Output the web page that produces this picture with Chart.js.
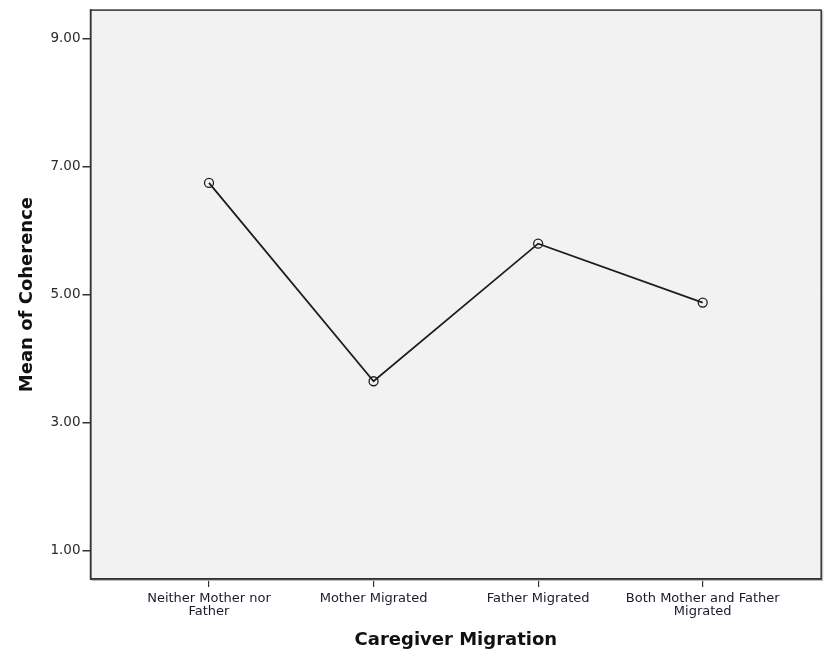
<!DOCTYPE html>
<html>
<head>
<meta charset="utf-8">
<script src="https://cdn.jsdelivr.net/npm/chart.js@4/dist/chart.umd.min.js"></script>
<style>
html,body{margin:0;padding:0;background:#fff;}
#wrap{width:827px;height:652px;position:relative;}
</style>
</head>
<body>
<div id="wrap"><canvas id="c" width="827" height="652"></canvas></div>
<script>
const categories = [
  ["Neither Mother nor", "Father"],
  ["Mother Migrated"],
  ["Father Migrated"],
  ["Both Mother and Father", "Migrated"]
];
const coherenceMeans = [6.75, 3.65, 5.80, 4.88];
const yTickValues = [1, 3, 5, 7, 9];
const yTickLabels = ["1.00", "3.00", "5.00", "7.00", "9.00"];

const plotBg = {
  id: 'plotBg',
  beforeDraw(chart) {
    const {ctx, chartArea: a} = chart;
    ctx.save();
    ctx.fillStyle = '#f2f2f2';
    ctx.fillRect(a.left, a.top, a.right - a.left, a.bottom - a.top);
    ctx.restore();
  },
  afterDraw(chart) {
    const {ctx, chartArea: a} = chart;
    ctx.save();
    ctx.strokeStyle = '#bbbbbb';
    ctx.lineWidth = 1;
    ctx.beginPath();
    ctx.moveTo(a.right + 1.5, a.top + 1);
    ctx.lineTo(a.right + 1.5, a.bottom + 1.5);
    ctx.lineTo(a.left + 1, a.bottom + 1.5);
    ctx.stroke();
    ctx.strokeStyle = '#333333';
    ctx.lineWidth = 1.5;
    ctx.strokeRect(a.left, a.top, a.right - a.left, a.bottom - a.top);
    ctx.restore();
  }
};

new Chart(document.getElementById('c'), {
  type: 'line',
  data: {
    datasets: [{
      data: coherenceMeans.map((v, i) => ({x: i, y: v})),
      borderColor: '#1e1e1e',
      borderWidth: 1.8,
      pointRadius: 4.5,
      pointBorderWidth: 1.3,
      pointBorderColor: '#1e1e1e',
      pointBackgroundColor: 'rgba(0,0,0,0)',
      tension: 0
    }]
  },
  plugins: [plotBg],
  options: {
    responsive: false,
    animation: false,
    devicePixelRatio: 1,
    layout: {padding: {top: 9, right: 4, bottom: 0, left: 0}},
    plugins: {legend: {display: false}, tooltip: {enabled: false}},
    scales: {
      x: {
        type: 'linear',
        min: -0.72,
        max: 3.72,
        afterBuildTicks: s => { s.ticks = categories.map((_, i) => ({value: i})); },
        afterFit: s => { s.height = 73; },
        grid: {display: true, drawOnChartArea: false, drawTicks: true, tickLength: 8, color: '#333333', lineWidth: 1.2},
        border: {display: true, color: '#333333', width: 1.5},
        ticks: {
          autoSkip: false,
          maxRotation: 0,
          padding: 5,
          color: '#1a1a2a',
          font: {family: 'DejaVu Sans', size: 13, lineHeight: 1.0},
          callback: (v) => categories[v] || ''
        },
        title: {
          display: true,
          text: 'Caregiver Migration',
          color: '#111111',
          font: {family: 'DejaVu Sans', size: 18, weight: 'bold', lineHeight: 1.2},
          padding: {top: 0, bottom: 1}
        }
      },
      y: {
        min: 0.56,
        max: 9.45,
        afterBuildTicks: s => { s.ticks = yTickValues.map(v => ({value: v})); },
        afterFit: s => { s.width = 90.5; },
        grid: {display: true, drawOnChartArea: false, drawTicks: true, tickLength: 8, color: '#333333', lineWidth: 1.5},
        border: {display: true, color: '#333333', width: 1.5},
        ticks: {
          padding: 2,
          color: '#2a2a2a',
          font: {family: 'DejaVu Sans', size: 13.5},
          callback: (v) => yTickLabels[yTickValues.indexOf(v)] ?? ''
        },
        title: {
          display: true,
          text: 'Mean of Coherence',
          color: '#111111',
          font: {family: 'DejaVu Sans', size: 18, weight: 'bold', lineHeight: 1.2},
          padding: {top: 17, bottom: 0}
        }
      }
    }
  }
});
</script>
</body>
</html>
